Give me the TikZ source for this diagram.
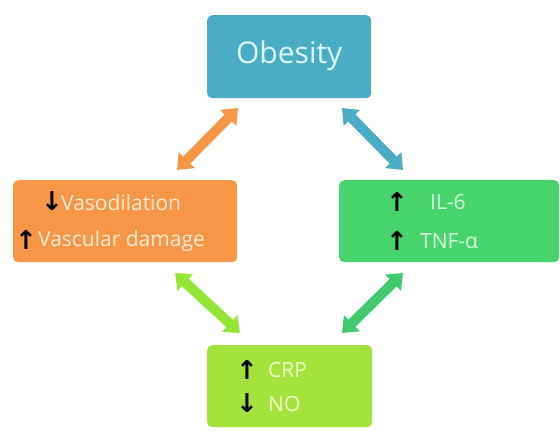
\documentclass[tikz,border=0pt]{standalone}
\usepackage{fontspec}
\setmainfont{Open Sans}
\newfontfamily\symfont{DejaVu Sans}
\usetikzlibrary{arrows.meta}
\definecolor{cblue}{HTML}{4BACC6}
\definecolor{corange}{HTML}{F79646}
\definecolor{cgreen}{HTML}{47D46C}
\definecolor{clime}{HTML}{A4E33C}
\definecolor{tblue}{HTML}{DDF6FB}
\definecolor{torange}{HTML}{FDEBD9}
\definecolor{tgreen}{HTML}{DAF7DF}
\definecolor{tlime}{HTML}{F0FCCB}
\tikzset{
  boxst/.style={rounded corners=5pt, inner sep=0pt, anchor=north west},
  dblarrow/.style={line width=10pt, {Triangle[width=22pt,length=14pt]}-{Triangle[width=22pt,length=14pt]}},
  updown/.style={font=\symfont\bfseries\fontsize{26}{26}\selectfont, text=black, inner sep=0pt},
  lbl/.style={font=\fontsize{21}{21}\selectfont, anchor=west, inner sep=0pt},
}
\begin{document}
\begin{tikzpicture}[x=1pt,y=-1pt]
\useasboundingbox (0,0) rectangle (560,438);
\fill[white] (0,0) rectangle (560,438);
% boxes
\node[boxst, fill=cblue, minimum width=164pt, minimum height=83pt] (ob) at (207,15) {};
\node[boxst, fill=corange, minimum width=224pt, minimum height=82pt] (vas) at (13,180) {};
\node[boxst, fill=cgreen, minimum width=220pt, minimum height=82pt] (cyt) at (339,180) {};
\node[boxst, fill=clime, minimum width=165pt, minimum height=82pt] (crp) at (207,345) {};
% texts
\node[text=tblue, font=\fontsize{30}{30}\selectfont] (obt) at ([yshift=1pt]ob.center) {Obesity};
\node[lbl, text=torange] (v1) at (61,203) {Vasodilation};
\node[lbl, text=torange] (v2) at (38,241) {Vascular damage};
\node[updown] (va1) at (52,201) {↓};
\node[updown] (va2) at (26,240) {↑};
\node[lbl, text=tgreen] (c1) at (430,202) {IL-6};
\node[lbl, text=tgreen] (c2) at (420,241) {TNF-α};
\node[updown] (ca1) at (397,202) {↑};
\node[updown] (ca2) at (397,241) {↑};
\node[lbl, text=tlime] (b1) at (268,370) {CRP};
\node[lbl, text=tlime] (b2) at (268,404) {NO};
\node[updown] (ba1) at (247,370) {↑};
\node[updown] (ba2) at (247,403) {↓};
% connector end points
\coordinate (o1) at (238,108);
\coordinate (o2) at (177,170);
\coordinate (b1s) at (342,108);
\coordinate (b2s) at (403,170);
\coordinate (l1) at (175,273);
\coordinate (l2) at (240,333);
\coordinate (g1) at (403,273);
\coordinate (g2) at (342,333);
\draw[dblarrow, corange] (o1) -- (o2);
\draw[dblarrow, cblue] (b1s) -- (b2s);
\draw[dblarrow, clime!90!green] (l1) -- (l2);
\draw[dblarrow, cgreen!90!teal] (g1) -- (g2);
\end{tikzpicture}
\end{document}
